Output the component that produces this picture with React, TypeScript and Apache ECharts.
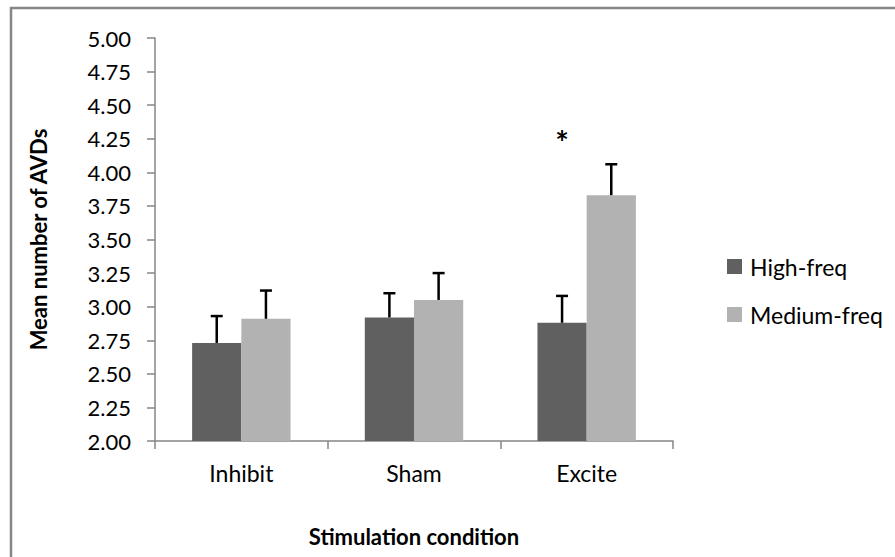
import React, { useEffect, useRef } from "react";
import * as echarts from "echarts";

const categories = ["Inhibit", "Sham", "Excite"];
const highFreq = [2.73, 2.92, 2.88];
const mediumFreq = [2.91, 3.05, 3.83];
const highFreqErr = [0.2, 0.18, 0.2];
const mediumFreqErr = [0.21, 0.2, 0.23];
const yTicks = { min: 2, max: 5, interval: 0.25 };
const significance = [{ category: "Excite", series: "High-freq", value: 4.22, mark: "*" }];

const FONT = "Lato";
const CAT_GAP = 0.43;

export default function App() {
  const ref = useRef<HTMLDivElement>(null);
  useEffect(() => {
    if (!ref.current) return;
    const chart = echarts.init(ref.current, null, { renderer: "svg" });

    const barOffset = (api: any, seriesName: string) => {
      const band = api.size([1, 0])[0];
      const bw = (band * (1 - CAT_GAP)) / 2;
      return seriesName === "High-freq" ? -bw / 2 : bw / 2;
    };

    const errorRender = (seriesName: string) => (params: any, api: any) => {
      const cat = api.value(0);
      const val = api.value(1);
      const err = api.value(2);
      const off = barOffset(api, seriesName);
      const base = api.coord([cat, val]);
      const top = api.coord([cat, val + err]);
      const x = base[0] + off;
      return {
        type: "group",
        children: [
          { type: "line", shape: { x1: x, y1: base[1], x2: x, y2: top[1] }, style: { stroke: "#000", lineWidth: 2.5 } },
          { type: "line", shape: { x1: x - 6, y1: top[1], x2: x + 6, y2: top[1] }, style: { stroke: "#000", lineWidth: 2.5 } },
        ],
      };
    };

    chart.setOption({
      animation: false,
      backgroundColor: "#fff",
      textStyle: { fontFamily: FONT },
      grid: { left: 155, right: 222, top: 38, bottom: 116, containLabel: false },
      graphic: [
        {
          type: "rect",
          shape: { x: 11, y: 8, width: 2000, height: 2000 },
          style: { fill: "none", stroke: "#868686", lineWidth: 2.5 },
          silent: true,
        },
      ],
      legend: {
        data: ["High-freq", "Medium-freq"],
        orient: "vertical",
        left: 722,
        top: 250,
        itemWidth: 15,
        itemHeight: 15,
        itemGap: 25,
        icon: "rect",
        textStyle: { fontFamily: FONT, fontSize: 23, color: "#000", padding: [0, 0, 0, 3] },
      },
      xAxis: {
        type: "category",
        data: categories,
        name: "Stimulation condition",
        nameLocation: "middle",
        nameGap: 84,
        nameTextStyle: { fontFamily: FONT, fontSize: 22, fontWeight: "bold", color: "#000" },
        axisLine: { show: true, lineStyle: { color: "#868686", width: 1.5 } },
        axisTick: { show: true, length: 8, interval: 0, alignWithLabel: false, lineStyle: { color: "#868686", width: 1.5 } },
        axisLabel: { fontFamily: FONT, fontSize: 23, color: "#000", margin: 20 },
        splitLine: { show: false },
      },
      yAxis: {
        type: "value",
        min: yTicks.min,
        max: yTicks.max,
        interval: yTicks.interval,
        name: "Mean number of AVDs",
        nameLocation: "middle",
        nameGap: 106,
        nameTextStyle: { fontFamily: FONT, fontSize: 22, fontWeight: "bold", color: "#000" },
        axisLine: { show: true, lineStyle: { color: "#868686", width: 1.5 } },
        axisTick: { show: true, length: 8, lineStyle: { color: "#868686", width: 1.5 } },
        axisLabel: { fontFamily: FONT, fontSize: 22, color: "#000", margin: 24, formatter: (v: number) => v.toFixed(2) },
        splitLine: { show: false },
      },
      series: [
        {
          name: "High-freq",
          type: "bar",
          data: highFreq,
          barGap: "0%",
          barCategoryGap: "43%",
          itemStyle: { color: "#606060" },
        },
        {
          name: "Medium-freq",
          type: "bar",
          data: mediumFreq,
          barGap: "0%",
          barCategoryGap: "43%",
          itemStyle: { color: "#b2b2b2" },
        },
        {
          name: "High-freq error",
          type: "custom",
          data: highFreq.map((v, i) => [i, v, highFreqErr[i]]),
          encode: { x: 0, y: 1 },
          renderItem: errorRender("High-freq"),
          z: 5,
        },
        {
          name: "Medium-freq error",
          type: "custom",
          data: mediumFreq.map((v, i) => [i, v, mediumFreqErr[i]]),
          encode: { x: 0, y: 1 },
          renderItem: errorRender("Medium-freq"),
          z: 5,
        },
        {
          name: "significance",
          type: "custom",
          data: significance.map((s) => [categories.indexOf(s.category), s.value]),
          encode: { x: 0, y: 1 },
          renderItem: (params: any, api: any) => {
            const s = significance[params.dataIndex];
            const p = api.coord([api.value(0), api.value(1)]);
            const x = p[0] + barOffset(api, s.series);
            return {
              type: "text",
              x,
              y: p[1],
              style: {
                text: s.mark,
                fontFamily: FONT,
                fontSize: 32,
                fontWeight: "bold",
                fill: "#000",
                align: "center",
                verticalAlign: "middle",
              },
            };
          },
          z: 6,
        },
      ],
    });
    return () => chart.dispose();
  }, []);
  return <div ref={ref} style={{ position: "absolute", left: 0, top: 0, width: 895, height: 557 }} />;
}
